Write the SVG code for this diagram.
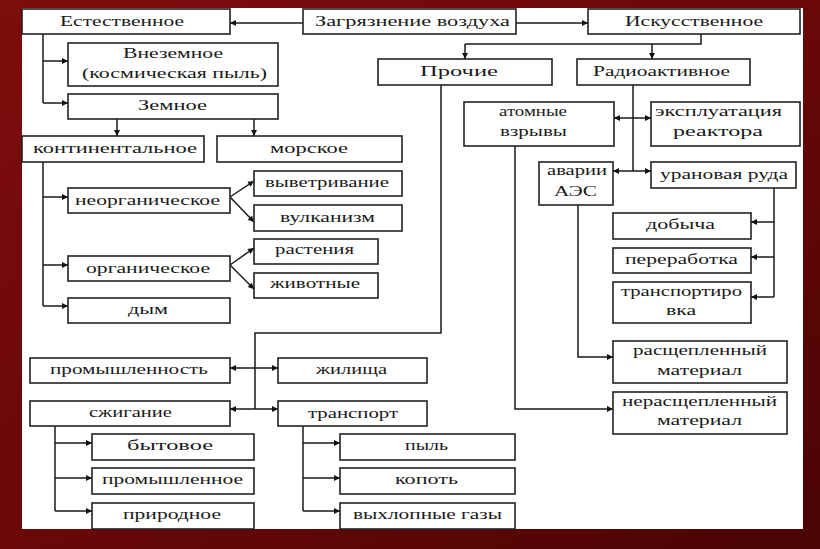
<svg xmlns="http://www.w3.org/2000/svg" width="820" height="549" viewBox="0 0 820 549">
<defs>
<linearGradient id="bg" x1="0" y1="0" x2="1" y2="1">
<stop offset="0" stop-color="#7e0d0d"/>
<stop offset="0.5" stop-color="#6a0808"/>
<stop offset="1" stop-color="#4a0404"/>
</linearGradient>
<marker id="ah" viewBox="0 0 10 10" refX="10" refY="5" markerWidth="7" markerHeight="6" markerUnits="userSpaceOnUse" orient="auto">
<path d="M0,0 L10,5 L0,10 z" fill="#111"/>
</marker>
<style>
.b{fill:#fff;stroke:#222;stroke-width:1.6}
.t{font-family:"Liberation Serif","Times New Roman",serif;font-size:15px;fill:#1a1a1a;text-anchor:middle}
.c{fill:none;stroke:#1a1a1a;stroke-width:1.5}
.a{fill:none;stroke:#1a1a1a;stroke-width:1.5;marker-end:url(#ah)}
</style>
</defs>
<rect x="0" y="0" width="820" height="549" fill="url(#bg)"/>
<rect x="22" y="8" width="781" height="521" fill="#fff"/>

<g id="connectors">
<path class="a" d="M303,23 H230"/>
<path class="a" d="M516,23 H588"/>
<path class="c" d="M701,34 V44 H465"/>
<path class="a" d="M465,44 V59"/>
<path class="a" d="M652,44 V59"/>
<path class="c" d="M43,34 V103"/>
<path class="a" d="M43,103 H68"/>
<path class="a" d="M43,61 H68"/>
<path class="a" d="M117,119 V136"/>
<path class="a" d="M254,119 V136"/>
<path class="c" d="M43,162 V306"/>
<path class="a" d="M43,197 H68"/>
<path class="a" d="M43,265 H68"/>
<path class="a" d="M43,306 H68"/>
<path class="a" d="M230,197 L254,181"/>
<path class="a" d="M230,197 L254,222"/>
<path class="a" d="M230,265 L254,248"/>
<path class="a" d="M230,265 L254,289"/>
<path class="c" d="M441,85 V333 H255 V409"/>
<path class="a" d="M255,368 H230"/>
<path class="a" d="M255,368 H278"/>
<path class="a" d="M255,409 H230"/>
<path class="a" d="M255,409 H278"/>
<path class="c" d="M633,85 V171"/>
<path class="a" d="M633,118 H614"/>
<path class="a" d="M633,118 H651"/>
<path class="a" d="M633,171 H613"/>
<path class="a" d="M633,171 H651"/>
<path class="c" d="M774,188 V297"/>
<path class="a" d="M774,222 H751"/>
<path class="a" d="M774,257 H751"/>
<path class="a" d="M774,297 H751"/>
<path class="a" d="M578,205 V357 H613"/>
<path class="a" d="M515,146 V409 H613"/>
<path class="c" d="M55,426 V511"/>
<path class="a" d="M55,443 H92"/>
<path class="a" d="M55,478 H92"/>
<path class="a" d="M55,511 H92"/>
<path class="c" d="M303,426 V511"/>
<path class="a" d="M303,443 H340"/>
<path class="a" d="M303,478 H340"/>
<path class="a" d="M303,511 H340"/>
</g>

<g id="n-estestvennoe"><rect class="b" x="22" y="9" width="208" height="25"/><text class="t" x="122" y="26" textLength="124" lengthAdjust="spacingAndGlyphs">Естественное</text></g>
<g id="n-zagryaznenie"><rect class="b" x="303" y="9" width="213" height="25"/><text class="t" x="412.5" y="26" textLength="195" lengthAdjust="spacingAndGlyphs">Загрязнение воздуха</text></g>
<g id="n-iskusstvennoe"><rect class="b" x="588" y="9" width="212" height="25"/><text class="t" x="694" y="26" textLength="138" lengthAdjust="spacingAndGlyphs">Искусственное</text></g>
<g id="n-vnezemnoe"><rect class="b" x="68" y="43" width="210" height="43"/><text class="t" x="173" y="58" textLength="100" lengthAdjust="spacingAndGlyphs">Внеземное</text><text class="t" x="174.5" y="78" textLength="185" lengthAdjust="spacingAndGlyphs">(космическая пыль)</text></g>
<g id="n-zemnoe"><rect class="b" x="68" y="94" width="210" height="25"/><text class="t" x="172.5" y="110" textLength="69" lengthAdjust="spacingAndGlyphs">Земное</text></g>
<g id="n-kontinentalnoe"><rect class="b" x="22" y="136" width="182" height="26"/><text class="t" x="115" y="153" textLength="164" lengthAdjust="spacingAndGlyphs">континентальное</text></g>
<g id="n-morskoe"><rect class="b" x="217" y="136" width="185" height="26"/><text class="t" x="309" y="153" textLength="78" lengthAdjust="spacingAndGlyphs">морское</text></g>
<g id="n-neorganicheskoe"><rect class="b" x="68" y="188" width="162" height="25"/><text class="t" x="147.5" y="205" textLength="145" lengthAdjust="spacingAndGlyphs">неорганическое</text></g>
<g id="n-vyvetrivanie"><rect class="b" x="254" y="171" width="148" height="25"/><text class="t" x="327" y="187" textLength="124" lengthAdjust="spacingAndGlyphs">выветривание</text></g>
<g id="n-vulkanizm"><rect class="b" x="254" y="205" width="148" height="26"/><text class="t" x="327.5" y="222" textLength="95" lengthAdjust="spacingAndGlyphs">вулканизм</text></g>
<g id="n-organicheskoe"><rect class="b" x="68" y="256" width="162" height="25"/><text class="t" x="148" y="273" textLength="124" lengthAdjust="spacingAndGlyphs">органическое</text></g>
<g id="n-rasteniya"><rect class="b" x="254" y="239" width="124" height="25"/><text class="t" x="314.5" y="254" textLength="79" lengthAdjust="spacingAndGlyphs">растения</text></g>
<g id="n-zhivotnye"><rect class="b" x="254" y="273" width="124" height="25"/><text class="t" x="315" y="288" textLength="90" lengthAdjust="spacingAndGlyphs">животные</text></g>
<g id="n-dym"><rect class="b" x="68" y="298" width="162" height="25"/><text class="t" x="148" y="314" textLength="40" lengthAdjust="spacingAndGlyphs">дым</text></g>
<g id="n-prochie"><rect class="b" x="378" y="59" width="174" height="26"/><text class="t" x="459" y="76" textLength="78" lengthAdjust="spacingAndGlyphs">Прочие</text></g>
<g id="n-radioaktivnoe"><rect class="b" x="577" y="59" width="173" height="26"/><text class="t" x="661.5" y="76" textLength="137" lengthAdjust="spacingAndGlyphs">Радиоактивное</text></g>
<g id="n-atomnye"><rect class="b" x="464" y="102" width="150" height="44"/><text class="t" x="533" y="116" textLength="68" lengthAdjust="spacingAndGlyphs">атомные</text><text class="t" x="533.5" y="136" textLength="67" lengthAdjust="spacingAndGlyphs">взрывы</text></g>
<g id="n-ekspluatatsiya"><rect class="b" x="651" y="102" width="149" height="44"/><text class="t" x="718.5" y="116" textLength="127" lengthAdjust="spacingAndGlyphs">эксплуатация</text><text class="t" x="718" y="136" textLength="90" lengthAdjust="spacingAndGlyphs">реактора</text></g>
<g id="n-avarii"><rect class="b" x="539" y="162" width="74" height="43"/><text class="t" x="577" y="175" textLength="60" lengthAdjust="spacingAndGlyphs">аварии</text><text class="t" x="575.5" y="196" textLength="43" lengthAdjust="spacingAndGlyphs">АЭС</text></g>
<g id="n-uranovaya"><rect class="b" x="651" y="162" width="145" height="26"/><text class="t" x="724" y="179" textLength="128" lengthAdjust="spacingAndGlyphs">урановая руда</text></g>
<g id="n-dobycha"><rect class="b" x="613" y="213" width="138" height="26"/><text class="t" x="680.5" y="229" textLength="69" lengthAdjust="spacingAndGlyphs">добыча</text></g>
<g id="n-pererabotka"><rect class="b" x="613" y="248" width="138" height="25"/><text class="t" x="681.5" y="264" textLength="113" lengthAdjust="spacingAndGlyphs">переработка</text></g>
<g id="n-transportirovka"><rect class="b" x="613" y="282" width="138" height="41"/><text class="t" x="681.5" y="296" textLength="121" lengthAdjust="spacingAndGlyphs">транспортиро</text><text class="t" x="681" y="315" textLength="30" lengthAdjust="spacingAndGlyphs">вка</text></g>
<g id="n-rasshcheplennyi"><rect class="b" x="613" y="341" width="174" height="42"/><text class="t" x="700" y="355" textLength="134" lengthAdjust="spacingAndGlyphs">расщепленный</text><text class="t" x="699.5" y="375" textLength="85" lengthAdjust="spacingAndGlyphs">материал</text></g>
<g id="n-nerasshcheplennyi"><rect class="b" x="613" y="392" width="174" height="42"/><text class="t" x="699.5" y="406" textLength="155" lengthAdjust="spacingAndGlyphs">нерасщепленный</text><text class="t" x="699.5" y="425" textLength="85" lengthAdjust="spacingAndGlyphs">материал</text></g>
<g id="n-promyshlennost"><rect class="b" x="30" y="358" width="200" height="25"/><text class="t" x="129" y="374" textLength="158" lengthAdjust="spacingAndGlyphs">промышленность</text></g>
<g id="n-zhilishcha"><rect class="b" x="278" y="358" width="149" height="25"/><text class="t" x="351.5" y="374" textLength="71" lengthAdjust="spacingAndGlyphs">жилища</text></g>
<g id="n-szhiganie"><rect class="b" x="30" y="401" width="200" height="25"/><text class="t" x="130.5" y="417" textLength="83" lengthAdjust="spacingAndGlyphs">сжигание</text></g>
<g id="n-transport"><rect class="b" x="278" y="401" width="149" height="25"/><text class="t" x="353" y="418" textLength="90" lengthAdjust="spacingAndGlyphs">транспорт</text></g>
<g id="n-bytovoe"><rect class="b" x="92" y="434" width="162" height="26"/><text class="t" x="170" y="450" textLength="86" lengthAdjust="spacingAndGlyphs">бытовое</text></g>
<g id="n-promyshlennoe"><rect class="b" x="92" y="468" width="162" height="26"/><text class="t" x="172.5" y="484" textLength="141" lengthAdjust="spacingAndGlyphs">промышленное</text></g>
<g id="n-prirodnoe"><rect class="b" x="92" y="503" width="162" height="26"/><text class="t" x="172" y="519" textLength="98" lengthAdjust="spacingAndGlyphs">природное</text></g>
<g id="n-pyl"><rect class="b" x="340" y="434" width="175" height="26"/><text class="t" x="426.5" y="450" textLength="43" lengthAdjust="spacingAndGlyphs">пыль</text></g>
<g id="n-kopot"><rect class="b" x="340" y="468" width="175" height="26"/><text class="t" x="426.5" y="484" textLength="63" lengthAdjust="spacingAndGlyphs">копоть</text></g>
<g id="n-vykhlopnye"><rect class="b" x="340" y="503" width="175" height="26"/><text class="t" x="427.5" y="519" textLength="149" lengthAdjust="spacingAndGlyphs">выхлопные газы</text></g>
</svg>
